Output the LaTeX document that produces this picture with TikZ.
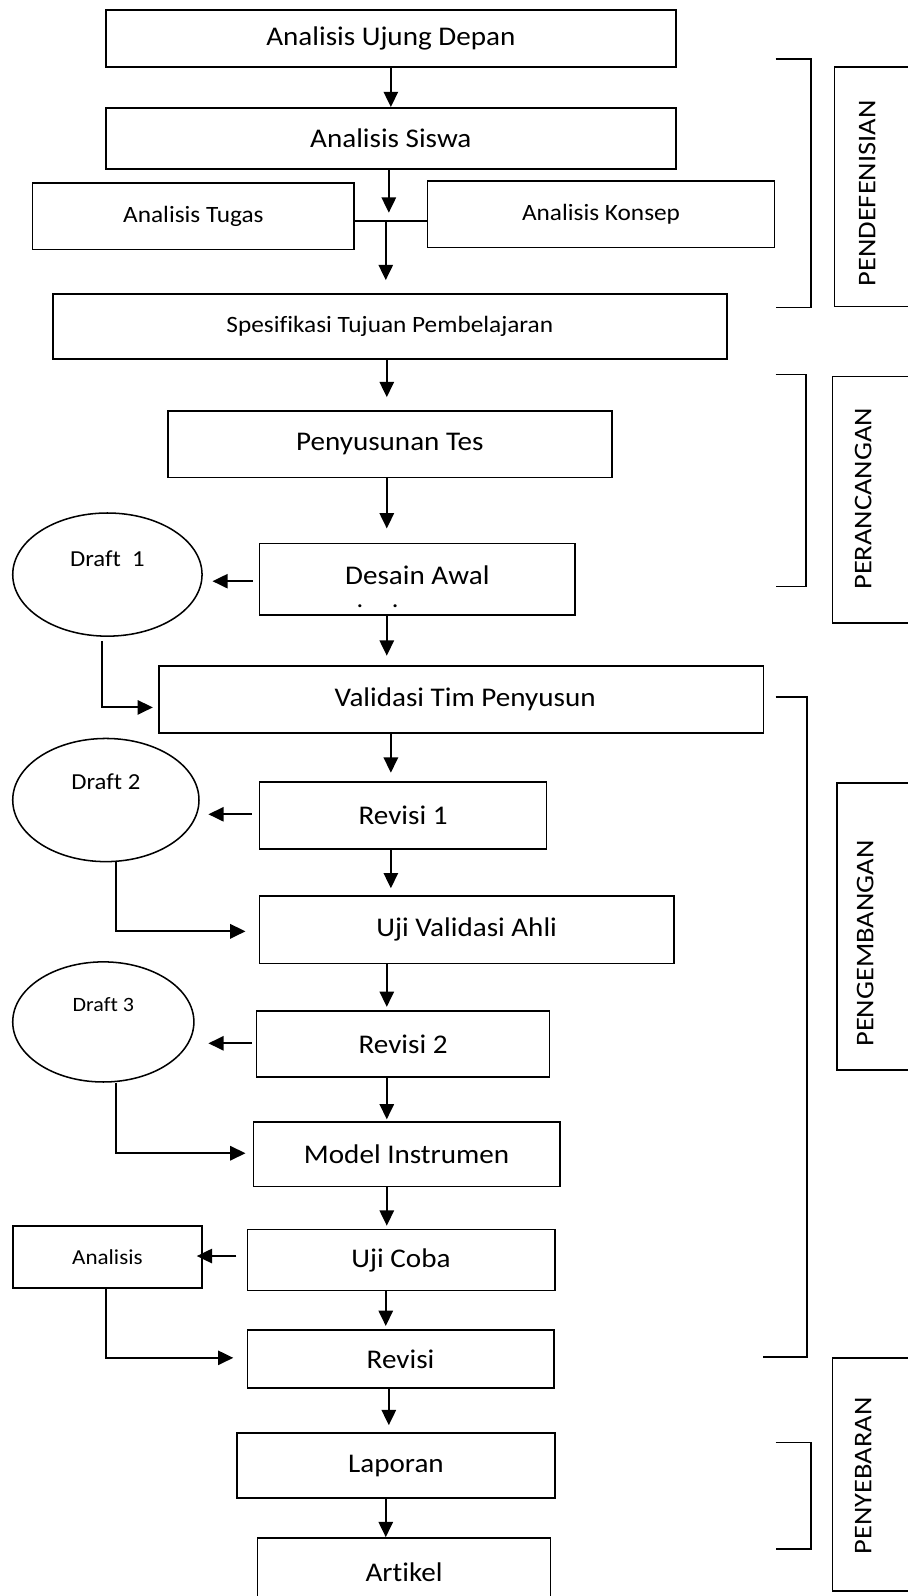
\documentclass[tikz,border=0pt]{standalone}
\usepackage{fontspec}
\setmainfont{Carlito}[FakeStretch=1.08, Ligatures=NoCommon]
\newfontfamily\sidefont{Carlito}[FakeStretch=1.12, Ligatures=NoCommon]
\usetikzlibrary{arrows.meta,shapes.geometric}
\tikzset{
  bx/.style={draw, line width=1.6pt, rectangle, inner sep=0pt, font=\fontsize{26.5}{30}\selectfont},
  bxs/.style={bx, font=\fontsize{23}{27}\selectfont},
  el/.style={draw, line width=1.5pt, ellipse, inner sep=0pt},
  eltext/.style={font=\fontsize{22.5}{26}\selectfont, inner sep=0pt},
  lbl/.style={font=\fontsize{26.5}{30}\selectfont, inner sep=0pt},
  sidebox/.style={draw, line width=1.6pt, rectangle, inner sep=0pt},
  sidetext/.style={rotate=90, font=\sidefont\fontsize{25}{29}\selectfont, inner sep=0pt},
  arr/.style={line width=2pt, -{Triangle[length=15pt,width=14pt]}},
  ln/.style={line width=1.7pt},
  brk/.style={line width=1.5pt}
}
\begin{document}
\begin{tikzpicture}[x=1pt,y=-1pt]
\useasboundingbox (0,0) rectangle (892,1568);
% main boxes
\node[bx, minimum width=560pt, minimum height=56pt] (udepan) at (384,38) {Analisis Ujung Depan};
\node[bx, minimum width=560pt, minimum height=60pt] (siswa) at (384,136) {Analisis Siswa};
\node[bxs, minimum width=316pt, minimum height=65pt] (tugas) at (190,212.5) {Analisis Tugas};
\node[bxs, minimum width=341pt, minimum height=65pt] (konsep) at (590.5,210.5) {Analisis Konsep};
\node[bxs, minimum width=662pt, minimum height=64pt] (spes) at (383,321) {Spesifikasi Tujuan Pembelajaran};
\node[bx, minimum width=436pt, minimum height=65pt] (tes) at (383,436.5) {Penyusunan Tes};
\node[bx, minimum width=310pt, minimum height=70pt,
      label={[yshift=4pt, lbl]center:Desain Awal}] (desain) at (410,569) {};
\node[font=\fontsize{24}{28}\selectfont, inner sep=0pt] (dots) at (371,596) {.\hspace{28pt}.};
\node[bx, minimum width=594pt, minimum height=66pt,
      label={[xshift=4pt, lbl]center:Validasi Tim Penyusun}] (validasi) at (453,687) {};
\node[bx, minimum width=282pt, minimum height=66pt] (rev1) at (396,801) {Revisi 1};
\node[bx, minimum width=407pt, minimum height=66pt] (ahli) at (458.5,913.5) {Uji Validasi Ahli};
\node[bx, minimum width=288pt, minimum height=65pt] (rev2) at (396,1025.5) {Revisi 2};
\node[bx, minimum width=301pt, minimum height=63pt] (model) at (399.5,1134) {Model Instrumen};
\node[bx, font=\fontsize{21}{25}\selectfont, minimum width=186pt, minimum height=61pt] (anal) at (105.5,1235) {Analisis};
\node[bx, minimum width=302pt, minimum height=60pt] (ujicoba) at (394,1238) {Uji Coba};
\node[bx, minimum width=301pt, minimum height=57pt] (revisi) at (393.5,1335) {Revisi};
\node[bx, minimum width=312pt, minimum height=64pt] (laporan) at (389,1440) {Laporan};
\node[bx, minimum width=288pt, minimum height=68pt] (artikel) at (397,1545) {Artikel};
% ellipses
\node[el, minimum width=186pt, minimum height=121pt,
      label={[yshift=16pt, eltext]center:Draft\ \ 1}] (d1) at (105.5,564.5) {};
\node[el, minimum width=183pt, minimum height=121pt,
      label={[yshift=18pt, eltext]center:Draft 2}] (d2) at (104,786) {};
\node[el, minimum width=178pt, minimum height=118pt,
      label={[yshift=17pt, inner sep=0pt, font=\fontsize{20}{24}\selectfont]center:Draft 3}] (d3) at (101.5,1004) {};
% side boxes
\node[sidebox, minimum width=86pt, minimum height=235pt] (pdef) at (863,183.5) {};
\node[sidetext] (tpdef) at (852,190) {PENDEFENISIAN};
\node[sidebox, minimum width=88pt, minimum height=242pt] (pran) at (862,491) {};
\node[sidetext] (tpran) at (848,490) {PERANCANGAN};
\node[sidebox, minimum width=84pt, minimum height=282pt] (pgem) at (864,910) {};
\node[sidetext] (tpgem) at (850,927) {PENGEMBANGAN};
\node[sidebox, minimum width=88pt, minimum height=229pt] (pnyb) at (862,1448.5) {};
\node[sidetext] (tpnyb) at (848,1450) {PENYEBARAN};
% brackets
\draw[brk] (762,58) -- (797,58) -- (797,302) -- (762,302);
\draw[brk] (762,368) -- (792,368) -- (792,576) -- (762,576);
\draw[brk] (762,685) -- (793,685) -- (793,1333) -- (750,1333);
\draw[brk] (762,1417) -- (797,1417) -- (797,1522) -- (762,1522);
% helper coordinates
\coordinate (x379) at (379,0);
\coordinate (x380) at (380,0);
\coordinate (x382) at (382,0);
\coordinate (x384) at (384,0);
\coordinate (tipA) at (382,209);
\coordinate (jct) at (379,217);
% vertical arrows
\draw[arr] (udepan.south) -- (siswa.north);
\draw[arr] (siswa.south -| tipA) -- (tipA);
\draw[ln] (tugas.east |- jct) -- (konsep.west |- jct);
\draw[arr, shorten >=13pt] (jct) -- (jct |- spes.north);
\draw[arr, shorten >=13pt] (spes.south -| x380) -- (tes.north -| x380);
\draw[arr, shorten >=14pt] (tes.south -| x380) -- (desain.north -| x380);
\draw[arr, shorten >=9pt] (desain.south -| x380) -- (validasi.north -| x380);
\draw[arr, shorten >=8pt] (validasi.south -| x384) -- (rev1.north -| x384);
\draw[arr, shorten >=7pt] (rev1.south -| x384) -- (ahli.north -| x384);
\draw[arr, shorten >=3pt] (ahli.south -| x380) -- (rev2.north -| x380);
\draw[arr, shorten >=2pt] (rev2.south -| x380) -- (model.north -| x380);
\draw[arr, shorten >=3pt] (model.south -| x380) -- (ujicoba.north -| x380);
\draw[arr, shorten >=3pt] (ujicoba.south -| x379) -- (revisi.north -| x379);
\draw[arr, shorten >=7pt] (revisi.south -| x382) -- (laporan.north -| x382);
\draw[arr] (laporan.south -| x379) -- (artikel.north -| x379);
% side arrows (left)
\coordinate (y571) at (0,571);
\coordinate (y800) at (0,800);
\coordinate (y1025) at (0,1025);
\coordinate (y1234) at (0,1234);
\draw[arr, shorten <=6pt, shorten >=9.5pt] (desain.west |- y571) -- (d1.east |- y571);
\draw[arr, shorten <=7pt, shorten >=8.5pt] (rev1.west |- y800) -- (d2.east |- y800);
\draw[arr, shorten <=4pt, shorten >=13.5pt] (rev2.west |- y1025) -- (d3.east |- y1025);
\draw[arr, shorten <=10pt, shorten >=-6pt] (ujicoba.west |- y1234) -- (anal.east |- y1234);
% return arrows
\coordinate (x100) at (100,0);
\coordinate (x114) at (114,0);
\coordinate (x104) at (104,0);
\coordinate (y695) at (0,695);
\coordinate (y915) at (0,915);
\coordinate (y1133) at (0,1133);
\coordinate (y1334) at (0,1334);
\draw[arr, shorten >=5pt] (d1.south -| x100) ++(0,4) |- (validasi.west |- y695);
\draw[arr, shorten >=13pt] (d2.south -| x114) |- (ahli.west |- y915);
\draw[arr, shorten >=7pt] (d3.south -| x114) |- (model.west |- y1133);
\draw[arr, shorten >=13pt] (anal.south -| x104) |- (revisi.west |- y1334);
\end{tikzpicture}
\end{document}
